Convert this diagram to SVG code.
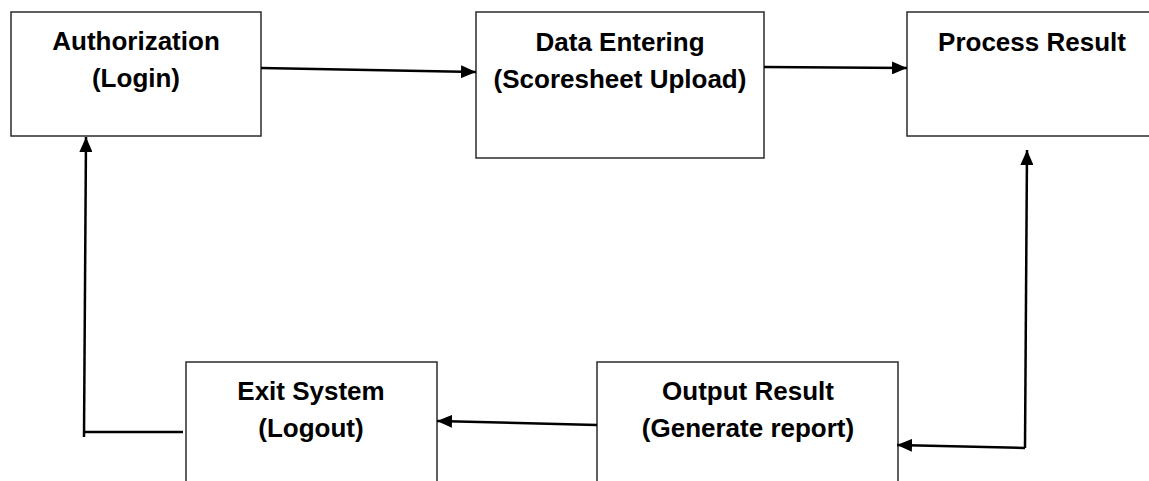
<svg xmlns="http://www.w3.org/2000/svg" width="1149" height="481" viewBox="0 0 1149 481">
  <style>
    .box { fill: #ffffff; stroke: #2b2b2b; stroke-width: 1.5; }
    .label { font-family: "Liberation Sans", Arial, sans-serif; font-weight: bold; font-size: 26px; fill: #000000; text-anchor: middle; }
    .wire { fill: none; stroke: #000000; stroke-width: 2.5; }
  </style>
  <defs>
    <marker id="head" viewBox="0 0 15 13" refX="15" refY="6.5" markerWidth="15" markerHeight="13" markerUnits="userSpaceOnUse" orient="auto">
      <path d="M0,0 L15,6.5 L0,13 Z" fill="#000000"/>
    </marker>
  </defs>

  <rect width="1149" height="481" fill="#ffffff"/>

  <!-- process steps -->
  <g id="node-authorization">
    <rect class="box" x="11" y="12" width="250" height="124"/>
    <text class="label" x="136" y="50">Authorization</text>
    <text class="label" x="136" y="87">(Login)</text>
  </g>

  <g id="node-data-entering">
    <rect class="box" x="476" y="12" width="288" height="146"/>
    <text class="label" x="620" y="51">Data Entering</text>
    <text class="label" x="620" y="88">(Scoresheet Upload)</text>
  </g>

  <g id="node-process-result">
    <rect class="box" x="907" y="12" width="252" height="124"/>
    <text class="label" x="1032" y="51">Process Result</text>
  </g>

  <g id="node-output-result">
    <rect class="box" x="597" y="362" width="301" height="130"/>
    <text class="label" x="748" y="400">Output Result</text>
    <text class="label" x="748" y="437">(Generate report)</text>
  </g>

  <g id="node-exit-system">
    <rect class="box" x="186" y="362" width="251" height="130"/>
    <text class="label" x="311" y="400">Exit System</text>
    <text class="label" x="311" y="437">(Logout)</text>
  </g>

  <!-- connectors -->
  <g id="connectors">
    <line class="wire" x1="261" y1="68" x2="476" y2="72" marker-end="url(#head)"/>
    <line class="wire" x1="764" y1="67" x2="907" y2="68" marker-end="url(#head)"/>
    <line class="wire" x1="1025" y1="448" x2="1027" y2="150" marker-end="url(#head)"/>
    <line class="wire" x1="1025" y1="448" x2="897" y2="445" marker-end="url(#head)"/>
    <line class="wire" x1="597" y1="425" x2="437" y2="421" marker-end="url(#head)"/>
    <line class="wire" x1="183" y1="432" x2="84" y2="432"/>
    <line class="wire" x1="84" y1="437" x2="86" y2="137" marker-end="url(#head)"/>
  </g>
</svg>
